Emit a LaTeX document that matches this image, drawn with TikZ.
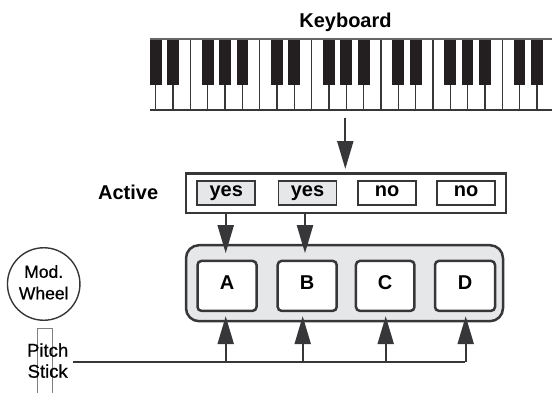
\documentclass[tikz,border=0pt]{standalone}
\usepackage{fontspec}
\setmainfont{Liberation Sans}
\newfontfamily\medfont[FakeBold=0.7]{Liberation Sans}
\usetikzlibrary{arrows.meta}
\definecolor{dk}{RGB}{55,55,57}
\definecolor{lg}{RGB}{230,231,233}
\definecolor{keyblack}{RGB}{35,31,32}
\tikzset{
  bf/.style={font=\fontsize{20}{24}\selectfont\bfseries},
  arr/.style={draw=dk,line width=2.2pt,-{Triangle[length=28pt,width=16pt]}},
  wire/.style={draw=dk,line width=2.2pt},
  flagbox/.style={draw=dk,line width=1.6pt,minimum width=58pt,minimum height=24pt,inner sep=0pt,
                  bf,text height=10pt,text depth=4pt},
  voicebox/.style={draw=dk,line width=2.5pt,fill=white,rounded corners=4pt,minimum width=59pt,
                  minimum height=50pt,inner sep=0pt,bf,text height=12pt,text depth=4pt},
}
\begin{document}
\begin{tikzpicture}[x=1pt,y=-1pt]
\useasboundingbox (0,0) rectangle (552,392);
% keyboard
\node[minimum width=402pt,minimum height=71pt,inner sep=0pt] (kbd) at (351,74.5) {};
\begin{scope}
\clip (150,30) rectangle (552,115);
\foreach \i in {-1,...,23}{
  \draw[dk,line width=1.2pt] ({155.7+17.33*\i},39) -- ({155.7+17.33*\i},110);
}
\foreach \i in {0,...,22}{
  \pgfmathtruncatemacro\m{mod(\i,7)}
  \ifnum\m=2 \else\ifnum\m=6 \else
    \fill[keyblack] ({155.7+17.33*\i-5.85},39) rectangle ({155.7+17.33*\i+5.85},85);
  \fi\fi
}
\draw[gray!80!black,line width=1.2pt] (150,39) -- (552,39);
\draw[dk,line width=1.4pt] (150,110) -- (552,110);
\end{scope}
\node[bf,anchor=base] (kbdlbl) at (345.5,27.3) {Keyboard};
% active row
\node[draw=dk,line width=2.5pt,minimum width=320pt,minimum height=39.5pt,inner sep=0pt] (act) at (346,193) {};
\node[bf,anchor=base] (actlbl) at (128.2,199) {Active};
\node[flagbox,fill=lg] (y1) at (226.2,193) {yes};
\node[flagbox,fill=lg] (y2) at (307.5,193) {yes};
\node[flagbox,fill=white] (n1) at (387.2,193) {no};
\node[flagbox,fill=white] (n2) at (466.2,193) {no};
\coordinate (kbout) at (345.3,117.5);
\draw[arr,shorten >=3pt] (kbout) -- (kbout |- act.north);
% voices
\node[draw=dk,line width=2.5pt,fill=lg,rounded corners=13pt,minimum width=317pt,minimum height=76pt,inner sep=0pt] (grp) at (344.5,283.2) {};
\node[voicebox] (A) at (227,285.9) {A};
\node[voicebox] (B) at (307.2,285.9) {B};
\node[voicebox,minimum width=58.5pt] (C) at (385.2,285.9) {C};
\node[voicebox,minimum width=60pt] (D) at (465,285.9) {D};
\draw[arr,shorten >=6.5pt] ([xshift=-0.5pt]y1.center |- act.south) -- ([xshift=-0.5pt]y1.center |- A.north);
\draw[arr,shorten >=6.5pt] ([xshift=-2.5pt]y2.center |- act.south) -- ([xshift=-2.5pt]y2.center |- B.north);
% controllers
\node[draw=dk,line width=1.4pt,circle,minimum size=72.5pt,inner sep=0pt] (mw) at (43.7,284) {};
\node[align=center,anchor=base,font=\medfont\fontsize{17.5}{21.5}\selectfont] (mwlbl) at (43.7,299.3) {Mod.\\Wheel};
\node[draw=gray,line width=0.9pt,minimum width=15.4pt,minimum height=80pt,inner sep=0pt,anchor=north] (ps) at (45,327.7) {};
\node[align=center,anchor=base,font=\medfont\fontsize{18.5}{21}\selectfont] (pslbl) at (47.7,377.7) {Pitch\\Stick};
\coordinate (busL) at (73.3,362);
\draw[wire] (busL) -- (D.south |- busL);
\draw[arr,shorten >=4pt] ([xshift=-1.3pt]A.center |- busL) -- ([xshift=-1.3pt]A.south);
\draw[arr,shorten >=4pt] ([xshift=-4.5pt]B.center |- busL) -- ([xshift=-4.5pt]B.south);
\draw[arr,shorten >=4pt] ([xshift=0.5pt]C.center |- busL) -- ([xshift=0.5pt]C.south);
\draw[arr,shorten >=4pt] ([xshift=0.7pt]D.center |- busL) -- ([xshift=0.7pt]D.south);
\end{tikzpicture}
\end{document}
